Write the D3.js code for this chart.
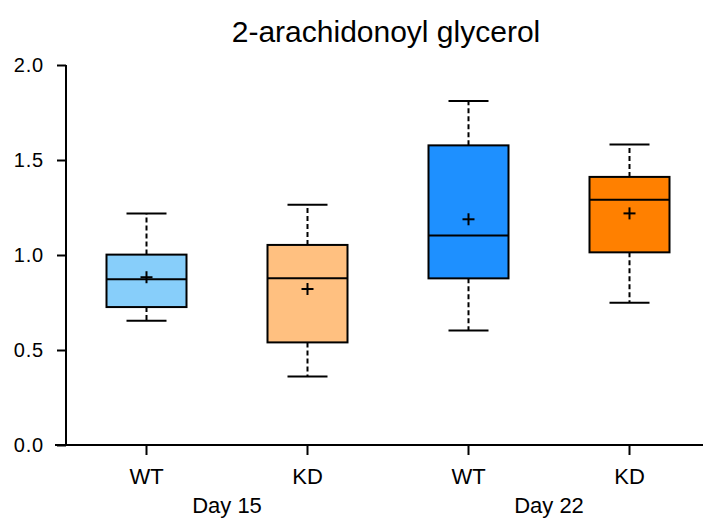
<!DOCTYPE html>
<html>
<head>
<meta charset="utf-8">
<script src="https://cdn.jsdelivr.net/npm/d3@7"></script>
<style>
  html, body { margin: 0; padding: 0; background: #fff; }
  text { font-family: "Liberation Sans", Arial, sans-serif; fill: #000; }
</style>
</head>
<body>
<svg id="chart" width="703" height="523"></svg>
<script>
const title = "2-arachidonoyl glycerol";
const groups = ["WT", "KD", "WT", "KD"];
const days = ["Day 15", "Day 22"];
const colors = ["#87CEFA", "#FFC080", "#1E90FF", "#FF8000"];
const whiskerLow = [0.654, 0.360, 0.602, 0.749];
const q1 = [0.726, 0.540, 0.877, 1.014];
const median = [0.872, 0.877, 1.102, 1.291];
const q3 = [1.002, 1.053, 1.577, 1.411];
const whiskerHigh = [1.219, 1.265, 1.811, 1.581];
const means = [0.883, 0.821, 1.188, 1.219];
const yTicks = [0.0, 0.5, 1.0, 1.5, 2.0];

const svg = d3.select("#chart");
const mLeft = 66, mRight = 710, mTop = 65, mBottom = 445;

const x = d3.scaleBand().domain(d3.range(groups.length)).range([mLeft, mRight]).padding(0);
const y = d3.scaleLinear().domain([0, 2]).range([mBottom, mTop]);
const boxW = 80, capW = 40, plus = 6;

// title
svg.append("text").attr("x", 386).attr("y", 42).attr("text-anchor", "middle")
  .style("font-size", "30px").text(title);

// y axis
const yAxis = svg.append("g").attr("transform", `translate(${mLeft},0)`)
  .call(d3.axisLeft(y).tickValues(yTicks).tickFormat(d3.format(".1f")).tickSize(9).tickPadding(13));
yAxis.select(".domain").attr("stroke", "#000").attr("stroke-width", 2).attr("d", `M0,${mTop}V${mBottom}`);
yAxis.selectAll(".tick line").attr("stroke", "#000").attr("stroke-width", 2);
yAxis.selectAll(".tick text").style("font-size", "20px").style("letter-spacing", "0.8px")
  .attr("font-family", "Liberation Sans, Arial, sans-serif");

// x axis
const xAxis = svg.append("g").attr("transform", `translate(0,${mBottom})`)
  .call(d3.axisBottom(x).tickFormat(i => groups[i]).tickSize(10).tickPadding(13));
xAxis.select(".domain").attr("stroke", "#000").attr("stroke-width", 2).attr("d", `M55,0H703`);
xAxis.selectAll(".tick line").attr("stroke", "#000").attr("stroke-width", 2);
xAxis.selectAll(".tick text").style("font-size", "22px")
  .attr("font-family", "Liberation Sans, Arial, sans-serif");

// day labels
days.forEach((d, k) => {
  const cx = (x(2 * k) + x(2 * k + 1) + x.bandwidth()) / 2;
  svg.append("text").attr("x", cx).attr("y", 513).attr("text-anchor", "middle")
    .style("font-size", "22px").text(d);
});

// boxes
const g = svg.append("g");
groups.forEach((_, i) => {
  const cx = x(i) + x.bandwidth() / 2;
  // whiskers (dashed)
  g.append("line").attr("x1", cx).attr("x2", cx).attr("y1", y(q3[i])).attr("y2", y(whiskerHigh[i]))
    .attr("stroke", "#000").attr("stroke-width", 2).attr("stroke-dasharray", "5,3");
  g.append("line").attr("x1", cx).attr("x2", cx).attr("y1", y(q1[i])).attr("y2", y(whiskerLow[i]))
    .attr("stroke", "#000").attr("stroke-width", 2).attr("stroke-dasharray", "5,3");
  // caps
  [whiskerHigh[i], whiskerLow[i]].forEach(v => {
    g.append("line").attr("x1", cx - capW / 2).attr("x2", cx + capW / 2).attr("y1", y(v)).attr("y2", y(v))
      .attr("stroke", "#000").attr("stroke-width", 2);
  });
  // box
  g.append("rect").attr("x", cx - boxW / 2).attr("width", boxW)
    .attr("y", y(q3[i])).attr("height", y(q1[i]) - y(q3[i]))
    .attr("fill", colors[i]).attr("stroke", "#000").attr("stroke-width", 2);
  // median
  g.append("line").attr("x1", cx - boxW / 2).attr("x2", cx + boxW / 2).attr("y1", y(median[i])).attr("y2", y(median[i]))
    .attr("stroke", "#000").attr("stroke-width", 2);
  // mean plus
  g.append("line").attr("x1", cx - plus).attr("x2", cx + plus).attr("y1", y(means[i])).attr("y2", y(means[i]))
    .attr("stroke", "#000").attr("stroke-width", 2);
  g.append("line").attr("x1", cx).attr("x2", cx).attr("y1", y(means[i]) - plus).attr("y2", y(means[i]) + plus)
    .attr("stroke", "#000").attr("stroke-width", 2);
});
</script>
</body>
</html>
